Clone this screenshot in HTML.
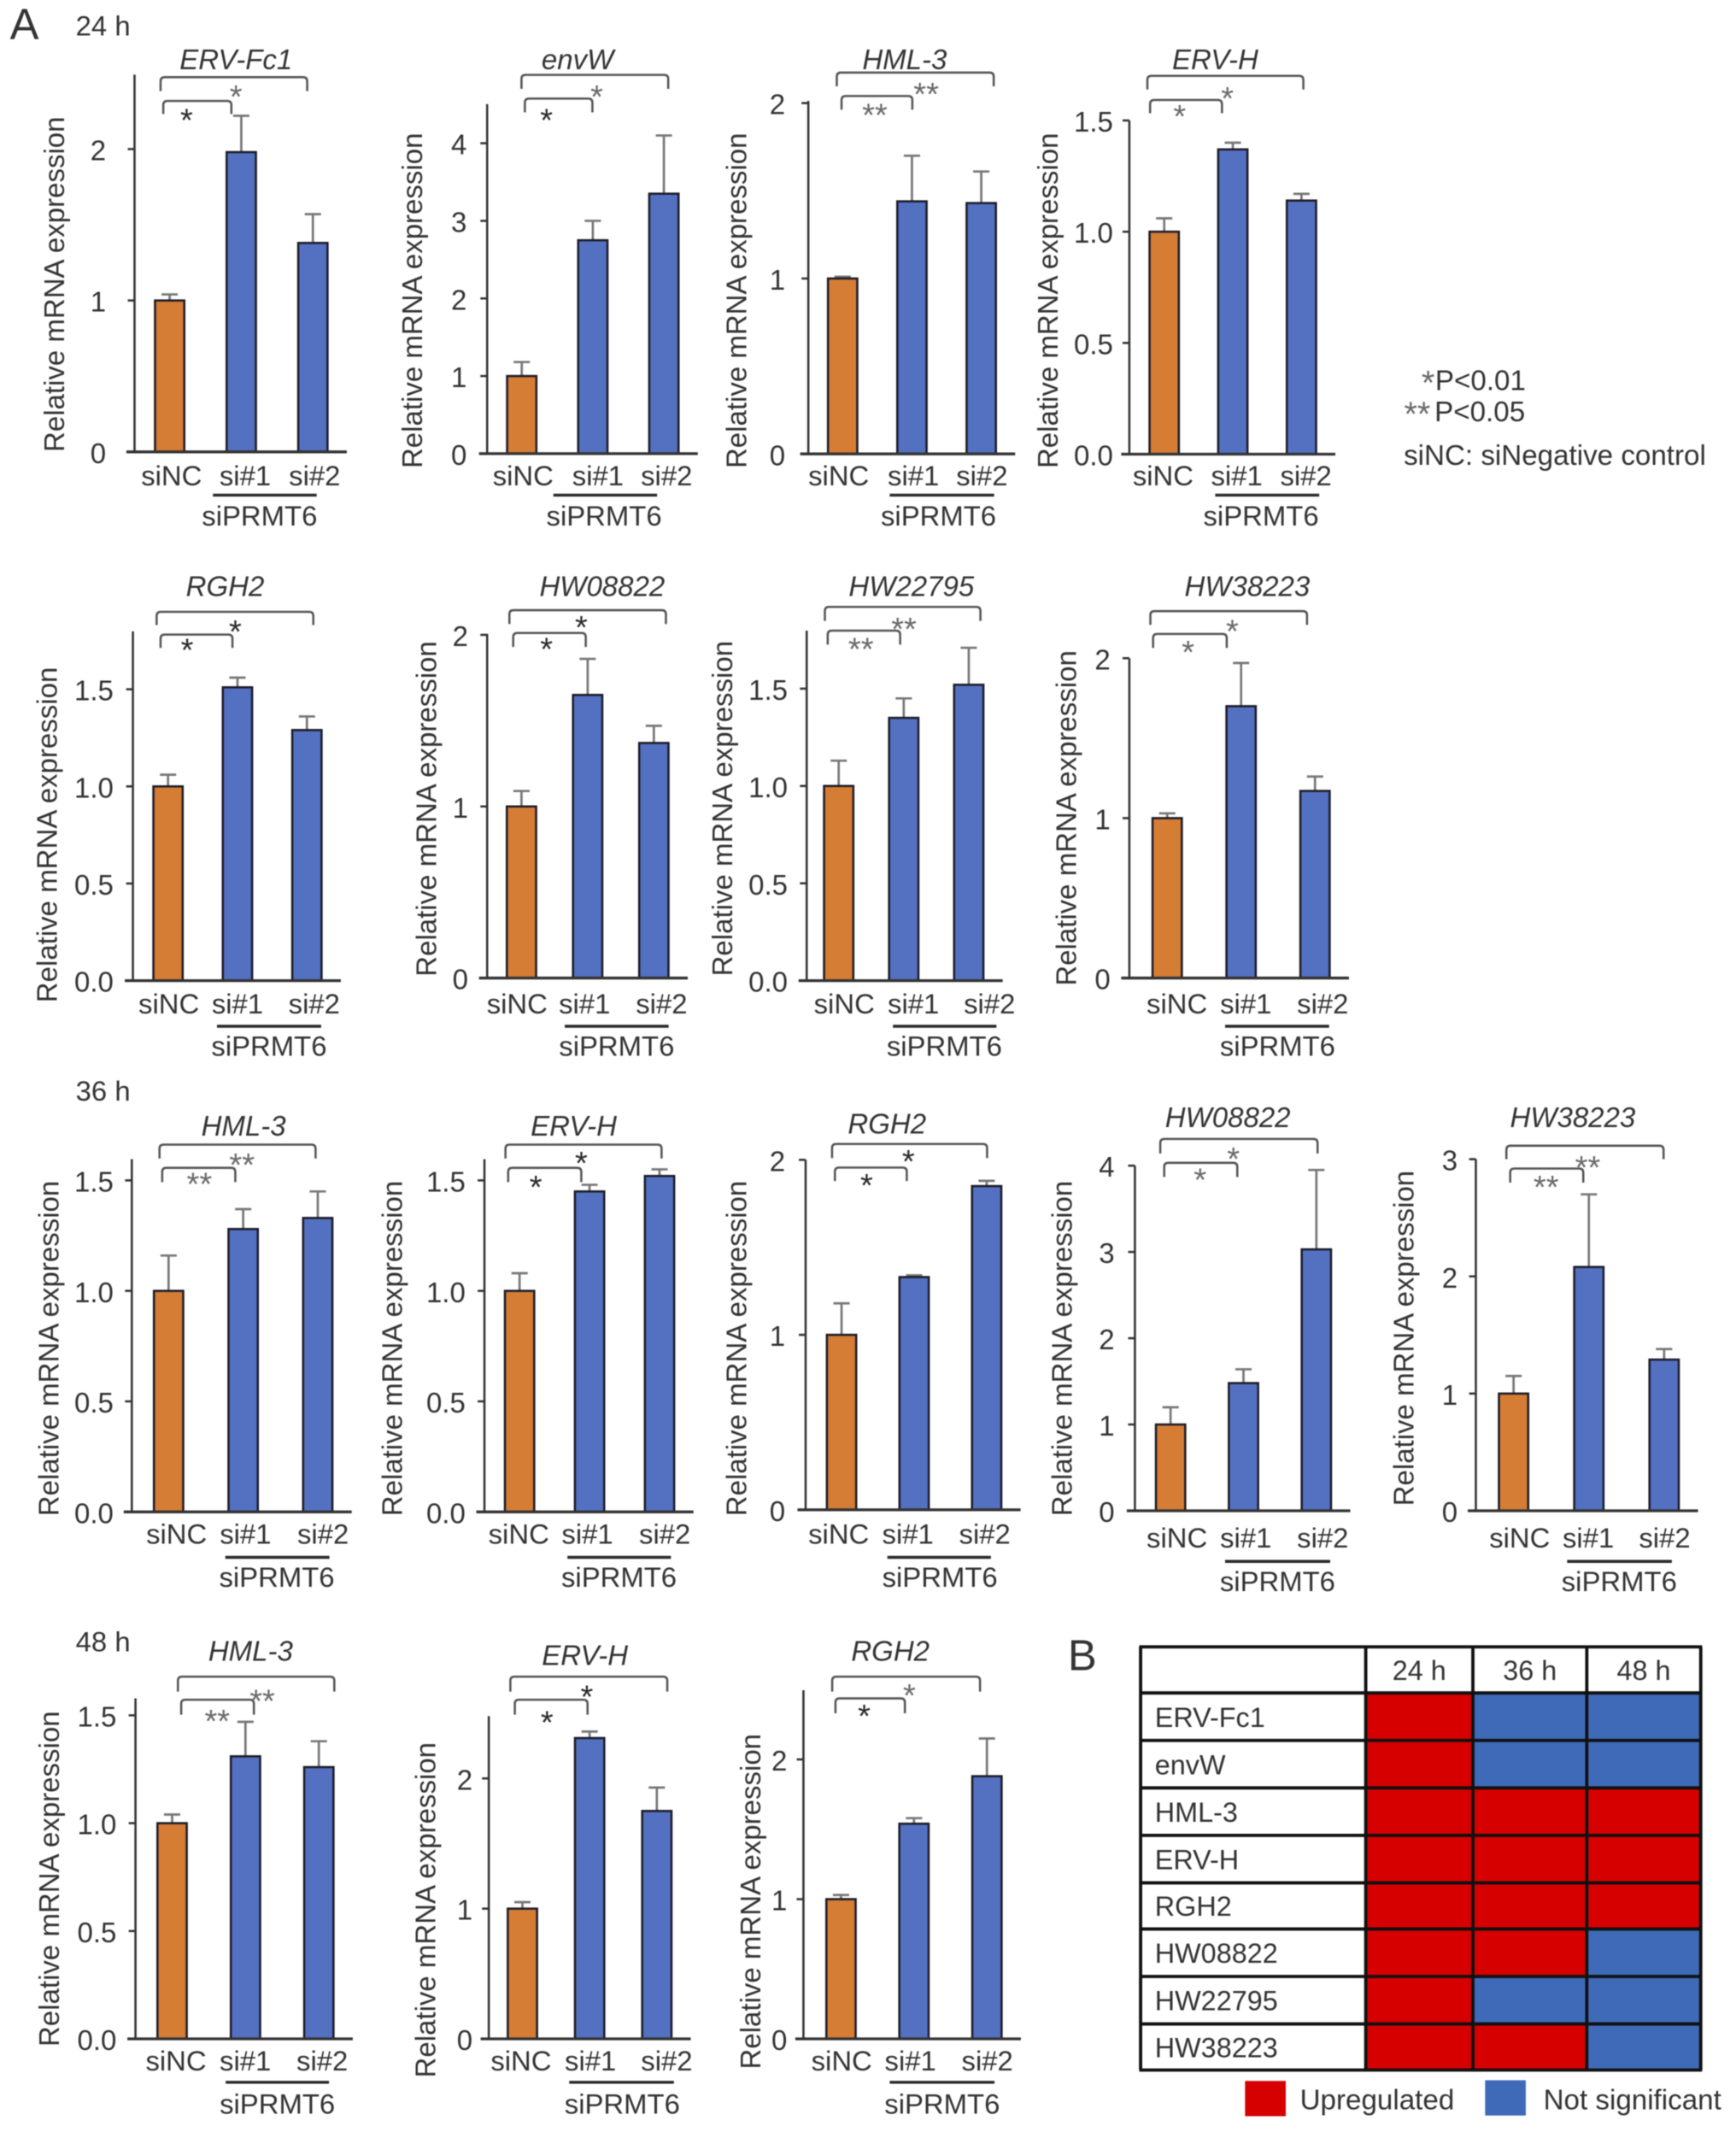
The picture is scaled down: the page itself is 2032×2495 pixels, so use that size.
<!DOCTYPE html>
<html lang="en">
<head>
<meta charset="utf-8">
<title>PRMT6 knockdown relative mRNA expression</title>
<style>
html,body{margin:0;padding:0;background:#fff}
svg{display:block;filter:blur(0.45px)}
text{font-family:"Liberation Sans",Arial,sans-serif;fill:#333}
</style>
</head>
<body>
<svg id="figure" xmlns="http://www.w3.org/2000/svg" width="2032" height="2495" viewBox="0 0 1280 1571.65"></svg>
<script>
// ---------- chart data ----------
const categories = ['siNC', 'si#1', 'si#2'];
const groupLabel = 'siPRMT6';
const panelTitles = ['ERV-Fc1','envW','HML-3','ERV-H','RGH2','HW08822','HW22795','HW38223','HML-3','ERV-H','RGH2','HW08822','HW38223','HML-3','ERV-H','RGH2'];
const panelValues = [
  [1,1.98,1.38],[1,2.75,3.35],[1,1.44,1.43],[1,1.37,1.14],
  [1,1.51,1.29],[1,1.65,1.37],[1,1.35,1.52],[1,1.70,1.17],
  [1,1.28,1.33],[1,1.45,1.52],[1,1.33,1.85],[1,1.48,3.03],[1,2.08,1.29],
  [1,1.31,1.26],[1,2.31,1.75],[1,1.54,1.88]
];
const panelErrorTops = [
  [1.04,2.22,1.57],[1.18,3.0,4.1],[1.01,1.70,1.61],[1.06,1.40,1.17],
  [1.06,1.56,1.36],[1.09,1.86,1.47],[1.13,1.45,1.71],[1.03,1.97,1.26],
  [1.16,1.37,1.45],[1.08,1.48,1.55],[1.18,1.34,1.88],[1.20,1.64,3.95],[1.15,2.70,1.38],
  [1.04,1.47,1.38],[1.05,2.36,1.93],[1.03,1.58,2.15]
];
const panelTicks = [
  ['0','1','2'],['0','1','2','3','4'],['0','1','2'],['0.0','0.5','1.0','1.5'],
  ['0.0','0.5','1.0','1.5'],['0','1','2'],['0.0','0.5','1.0','1.5'],['0','1','2'],
  ['0.0','0.5','1.0','1.5'],['0.0','0.5','1.0','1.5'],['0','1','2'],['0','1','2','3','4'],['0','1','2','3'],
  ['0.0','0.5','1.0','1.5'],['0','1','2'],['0','1','2']
];
const panelStars = [
  ['*','*'],['*','*'],['**','**'],['*','*'],
  ['*','*'],['*','*'],['**','**'],['*','*'],
  ['**','**'],['*','*'],['*','*'],['*','*'],['**','**'],
  ['**','**'],['*','*'],['*','*']
];
const heatGenes = ['ERV-Fc1','envW','HML-3','ERV-H','RGH2','HW08822','HW22795','HW38223'];
const heatTimes = ['24 h','36 h','48 h'];
const heatStatus = [
  ['U','N','N'],['U','N','N'],['U','U','U'],['U','U','U'],
  ['U','U','U'],['U','U','N'],['U','N','N'],['U','U','N']
];

// ---------- layout (separate from data) ----------
// ax: y-axis x, td: tick-label gap, base: y of zero, unit: px per value unit, top: axis top, bx: first bar centre, step: bar spacing
// tx/ty: title, lx/lc: y-label x and centre, tb: upper bracket [x1,x2,y,yEnd], lb: lower bracket, s1/s2: star centres, st: star tones
// xl: x-label centres, ln: group line [x1,x2,y], gx/gy: group label
const L = [
 {ax:99.2,td:21,base:333.1,unit:111.6,top:55,bx:125.1,step:52.8,tx:174,ty:43.9,lx:40,lc:209.6,tb:[118.4,226.5,56.9,67.2],lb:[120.4,170.6,74.4,84],s1:[137.6,85.7],s2:[174,68.4],st:'dg',xl:[126.5,180.8,232],xy:350.4,ln:[157,233.5,365],gx:191.4,gy:380},
 {ax:359.2,td:15,base:334.4,unit:57.2,top:76.8,bx:384.7,step:52.4,tx:425.9,ty:43.9,lx:304,lc:221.6,tb:[384.5,492.7,55.2,65.5],lb:[387,436.8,72.7,82.8],s1:[402.9,85.9],s2:[440,68.4],st:'dg',xl:[385.7,440.9,491.5],xy:350.4,ln:[408,484.5,365],gx:445.4,gy:380},
 {ax:596,td:17,base:334.6,unit:129.3,top:74.4,bx:621.3,step:51.1,tx:667,ty:43.9,lx:543,lc:221.6,tb:[617,732.7,53.5,63.6],lb:[620.5,672.7,70.8,80.9],s1:[645,82],s2:[682.9,66.5],st:'gg',xl:[618.4,673.5,724],xy:350.4,ln:[656,733,365],gx:692,gy:380},
 {ax:832.7,td:12,base:334.8,unit:164,top:88.8,bx:858.4,step:50.6,tx:896,ty:43.9,lx:772.7,lc:221.6,tb:[846,961,55.9,66],lb:[848,901,73.7,83.5],s1:[869.8,82.8],s2:[905,69.6],st:'gg',xl:[857.6,911.9,962.9],xy:350.4,ln:[896,972.7,365],gx:929.8,gy:380},
 {ax:98,td:14.3,base:722.9,unit:143.2,top:465.4,bx:123.9,step:51.2,tx:166,ty:432,lx:34.7,lc:615.4,tb:[115.5,231,451,460.8],lb:[118.4,171.4,467.8,477.6],s1:[138,476.2],s2:[173.5,462.7],st:'dd',xl:[124.5,175.1,231.7],xy:739.7,ln:[160,236.8,756.5],gx:198.4,gy:770.9},
 {ax:359.2,td:14,base:721,unit:126.5,top:467.3,bx:384.5,step:48.8,tx:444,ty:432,lx:314.3,lc:596.2,tb:[375.6,491,449.8,460],lb:[378.4,431.9,466.6,476.9],s1:[402.9,475.7],s2:[428.6,459.6],st:'dd',xl:[381.3,431,487.8],xy:739.7,ln:[416.4,493,756.5],gx:454.7,gy:770.9},
 {ax:594.8,td:14,base:722.9,unit:143.5,top:464.9,bx:618.4,step:47.95,tx:672,ty:432,lx:532.7,lc:596,tb:[608.2,722.9,447.4,457.7],lb:[610.3,663.7,464.9,475.2],s1:[634.8,475.7],s2:[666.5,460.8],st:'gg',xl:[622.5,673.5,729.6],xy:739.7,ln:[658.4,734.7,756.5],gx:696.3,gy:770.9},
 {ax:832.7,td:14,base:721,unit:117.9,top:485.3,bx:860.6,step:54.5,tx:919.6,ty:432,lx:786.1,lc:603.1,tb:[848.2,963.7,450.5,460.6],lb:[850.2,904.5,467.3,477.6],s1:[876,478],s2:[908.6,462.5],st:'gg',xl:[867.8,918.6,975.3],xy:739.7,ln:[903.3,980,756.5],gx:942,gy:770.9},
 {ax:97.2,td:13.5,base:1114.5,unit:162.9,top:854.5,bx:124.3,step:55,tx:179.6,ty:830,lx:35.9,lc:994,tb:[117.6,232.7,843.8,854],lb:[119.6,173.5,860.9,871.4],s1:[147,869.9],s2:[178.4,855.7],st:'gg',xl:[130.2,181,238.2],xy:1130.6,ln:[166.1,242.9,1148],gx:204.1,gy:1162.6},
 {ax:357.2,td:14,base:1114.5,unit:162.9,top:854.5,bx:383.1,step:51.6,tx:423,ty:830,lx:289,lc:994,tb:[372.7,487.8,843.8,854],lb:[374.7,428.6,860.9,871.4],s1:[395.1,872.3],s2:[428.6,854.5],st:'dd',xl:[382.5,433.1,490.2],xy:1130.6,ln:[418.4,494.7,1148],gx:456.4,gy:1162.6},
 {ax:594,td:15,base:1113,unit:129,top:855,bx:620.5,step:53.5,tx:654,ty:828.4,lx:542.9,lc:994,tb:[613.5,727.8,843.3,853.7],lb:[615.6,668.6,860.7,870.6],s1:[639,871],s2:[669.8,853.2],st:'dd',xl:[618.4,669.4,726.1],xy:1130.6,ln:[654.3,730.6,1148],gx:693,gy:1162.6},
 {ax:836.8,td:15,base:1113.7,unit:63.6,top:859.4,bx:863.1,step:53.75,tx:905.3,ty:823.5,lx:782.9,lc:994,tb:[855.5,971.5,839.6,850.3],lb:[858.4,912.3,857.2,867.6],s1:[884.9,866.9],s2:[909.4,851.3],st:'gg',xl:[867.8,918.6,975.3],xy:1133.6,ln:[903.3,980.8,1151],gx:942,gy:1165.8},
 {ax:1088.2,td:13.5,base:1113.7,unit:86.4,top:854.5,bx:1116,step:55.5,tx:1159.6,ty:823.5,lx:1035.1,lc:986.5,tb:[1110.7,1226.6,844.6,854.5],lb:[1113.5,1167.4,861.4,871.8],s1:[1140,872.3],s2:[1170.7,857.7],st:'gg',xl:[1120.5,1171.1,1227.4],xy:1133.6,ln:[1155.5,1232.7,1151],gx:1193.9,gy:1165.8},
 {ax:99.9,td:14,base:1503,unit:159,top:1252,bx:126.9,step:54.1,tx:184.8,ty:1217,lx:36.2,lc:1385,tb:[131.2,246.5,1236,1247],lb:[133.6,187.2,1253,1264],s1:[160.2,1266],s2:[193.4,1251],st:'gg',xl:[129.8,180.9,237.6],xy:1519,ln:[166.4,242.6,1535],gx:204.5,gy:1551},
 {ax:360.4,td:12,base:1503,unit:96,top:1265,bx:385.2,step:49.55,tx:431.3,ty:1220,lx:313.6,lc:1408,tb:[376.3,492,1236,1247],lb:[379.6,433.2,1253,1264],s1:[403.3,1267],s2:[432.7,1248],st:'dd',xl:[384.2,435.4,491.6],xy:1519,ln:[419.7,496.9,1535],gx:458.8,gy:1551},
 {ax:592.4,td:12,base:1503,unit:103,top:1246,bx:620.1,step:53.8,tx:656.5,ty:1217,lx:553.3,lc:1401.7,tb:[613.6,722.6,1236,1247],lb:[616,667.2,1252,1263],s1:[637.2,1262],s2:[670.5,1247],st:'dg',xl:[620.6,671.3,728],xy:1519,ln:[656,733.3,1535],gx:694.7,gy:1551}
];

const NS = 'http://www.w3.org/2000/svg';
const svg = document.getElementById('figure');
const COL = {orange:'#d57c35', blue:'#5470c0', edge:'#1c1c28', axis:'#333', err:'#777', red:'#d60000', nblue:'#3e6ab8'};
const STAR_TONE = {d:'#2a2a2a', g:'#6a6a6a'};

function mk(tag, parent, attrs) {
  const el = document.createElementNS(NS, tag);
  for (const k in attrs) el.setAttribute(k, attrs[k]);
  parent.appendChild(el);
  return el;
}
function txt(parent, x, y, s, size, extra) {
  const el = mk('text', parent, Object.assign({x:x, y:y, 'font-size':size, 'text-anchor':'middle', 'dominant-baseline':'central'}, extra || {}));
  el.textContent = s;
  return el;
}
function star(parent, x, y, s, size, tone) {
  return txt(parent, x, y + size * 0.14, s, size, {style:'fill:' + tone});
}
function bracketPath(b) {
  return 'M' + b[0] + ' ' + b[3] + 'V' + (b[2] + 3) + 'Q' + b[0] + ' ' + b[2] + ' ' + (b[0] + 3) + ' ' + b[2] +
         'H' + (b[1] - 3) + 'Q' + b[1] + ' ' + b[2] + ' ' + b[1] + ' ' + (b[2] + 3) + 'V' + b[3];
}

function drawPanel(p) {
  const lay = L[p];
  const yAxis = v => lay.base - v * lay.unit;
  const xAxis = i => lay.bx + i * lay.step;
  const g = mk('g', svg, {});
  
  

  const title = txt(g, lay.tx, lay.ty, panelTitles[p], 20.8, {'font-style':'italic'});
  
  

  const yl = txt(g, lay.lx, lay.lc, 'Relative mRNA expression', 20.8, {transform:'rotate(-90 ' + lay.lx + ' ' + lay.lc + ')'});
  
  

  categories.forEach((c, i) => {
    const err = mk('path', g, {d:'M' + xAxis(i) + ' ' + yAxis(panelValues[p][i]) + 'V' + yAxis(panelErrorTops[p][i]) + 'm-6 0h12', fill:'none', stroke:COL.err, 'stroke-width':1.7});
    
    

    const bar = mk('rect', g, {x:xAxis(i) - 10.8, y:yAxis(panelValues[p][i]), width:21.6, height:lay.base - yAxis(panelValues[p][i]), fill:i === 0 ? COL.orange : COL.blue, stroke:COL.edge, 'stroke-width':1.6});
    
    

    const xl = txt(g, lay.xl[i], lay.xy, c, 20.7);
    
    
  });

  const yLine = mk('line', g, {x1:lay.ax, x2:lay.ax, y1:lay.top, y2:lay.base, stroke:COL.axis, 'stroke-width':1.6});
  
  
  const xLine = mk('line', g, {x1:lay.ax - 6, x2:xAxis(2) + 25, y1:lay.base, y2:lay.base, stroke:COL.axis, 'stroke-width':2.1});
  
  

  panelTicks[p].forEach(t => {
    const tick = mk('line', g, {x1:lay.ax - 5, x2:lay.ax, y1:yAxis(+t), y2:yAxis(+t), stroke:COL.axis, 'stroke-width':1.6});
    
    
    const tl = txt(g, lay.ax - lay.td, yAxis(+t) + 1, t, 20.8, {'text-anchor':'end'});
    
    
  });

  const upper = mk('path', g, {d:bracketPath(lay.tb), fill:'none', stroke:'#555', 'stroke-width':1.6});
  
  
  const lower = mk('path', g, {d:bracketPath(lay.lb), fill:'none', stroke:'#555', 'stroke-width':1.6});
  
  

  const s1 = star(g, lay.s1[0], lay.s1[1], panelStars[p][0], 24, STAR_TONE[lay.st[0]]);
  
  
  const s2 = star(g, lay.s2[0], lay.s2[1], panelStars[p][1], 24, STAR_TONE[lay.st[1]]);
  
  

  const ln = mk('line', g, {x1:lay.ln[0], x2:lay.ln[1], y1:lay.ln[2], y2:lay.ln[2], stroke:'#2a2a2a', 'stroke-width':2.2});
  
  
  const gl = txt(g, lay.gx, lay.gy, groupLabel, 20.7);
  
  
}
panelTitles.forEach((_, p) => drawPanel(p));

// ---------- free-standing labels ----------
const panelA = txt(svg, 18, 18, 'A', 32);


const panelB = txt(svg, 798, 1220, 'B', 32);


const h24 = txt(svg, 76, 19, '24 h', 20.7);


const h36 = txt(svg, 76, 804, '36 h', 20.7);


const h48 = txt(svg, 76, 1210, '48 h', 20.7);



const note1Star = star(svg, 1053, 279, '*', 25, '#6a6a6a');


const note1 = txt(svg, 1125, 281, 'P<0.01', 20.9, {'text-anchor':'end'});


const note2Star = star(svg, 1045, 302, '**', 25, '#6a6a6a');


const note2 = txt(svg, 1124.5, 304, 'P<0.05', 20.9, {'text-anchor':'end'});


const note3 = txt(svg, 1035, 336, 'siNC: siNegative control', 20.9, {'text-anchor':'start'});



// ---------- table B ----------
const colEdges = [841, 1007, 1086, 1170, 1254];
const rowEdges = [1214, 1248, 1283, 1318, 1353, 1388, 1422, 1457, 1492, 1526];
const tbl = mk('g', svg, {});


heatStatus.forEach((row, r) => {
  row.forEach((st, c) => {
    const cell = mk('rect', tbl, {x:colEdges[c + 1], y:rowEdges[r + 1], width:colEdges[c + 2] - colEdges[c + 1], height:rowEdges[r + 2] - rowEdges[r + 1], fill:st === 'U' ? COL.red : COL.nblue});
    
    
  });
  const gene = txt(tbl, 851.5, (rowEdges[r + 1] + rowEdges[r + 2]) / 2 + 0.5, heatGenes[r], 20.4, {'text-anchor':'start'});
  
  
});
heatTimes.forEach((t, c) => {
  const head = txt(tbl, (colEdges[c + 1] + colEdges[c + 2]) / 2, (rowEdges[0] + rowEdges[1]) / 2 + 0.5, t, 20.4);
  
  
});
colEdges.forEach(x => {
  const v = mk('line', tbl, {x1:x, x2:x, y1:rowEdges[0], y2:rowEdges[9], stroke:'#111', 'stroke-width':2.4});
  
  
});
rowEdges.forEach(y => {
  const h = mk('line', tbl, {x1:colEdges[0] - 1, x2:colEdges[4] + 1, y1:y, y2:y, stroke:'#111', 'stroke-width':2.4});
  
  
});

// ---------- legend ----------
const legendRed = mk('rect', svg, {x:918, y:1534, width:30, height:26, fill:COL.red});


const legendRedText = txt(svg, 958.5, 1548.5, 'Upregulated', 20.9, {'text-anchor':'start'});


const legendBlue = mk('rect', svg, {x:1095, y:1533.5, width:30, height:26, fill:COL.nblue});


const legendBlueText = txt(svg, 1138, 1548.5, 'Not significant', 20.9, {'text-anchor':'start'});


</script>
</body>
</html>
